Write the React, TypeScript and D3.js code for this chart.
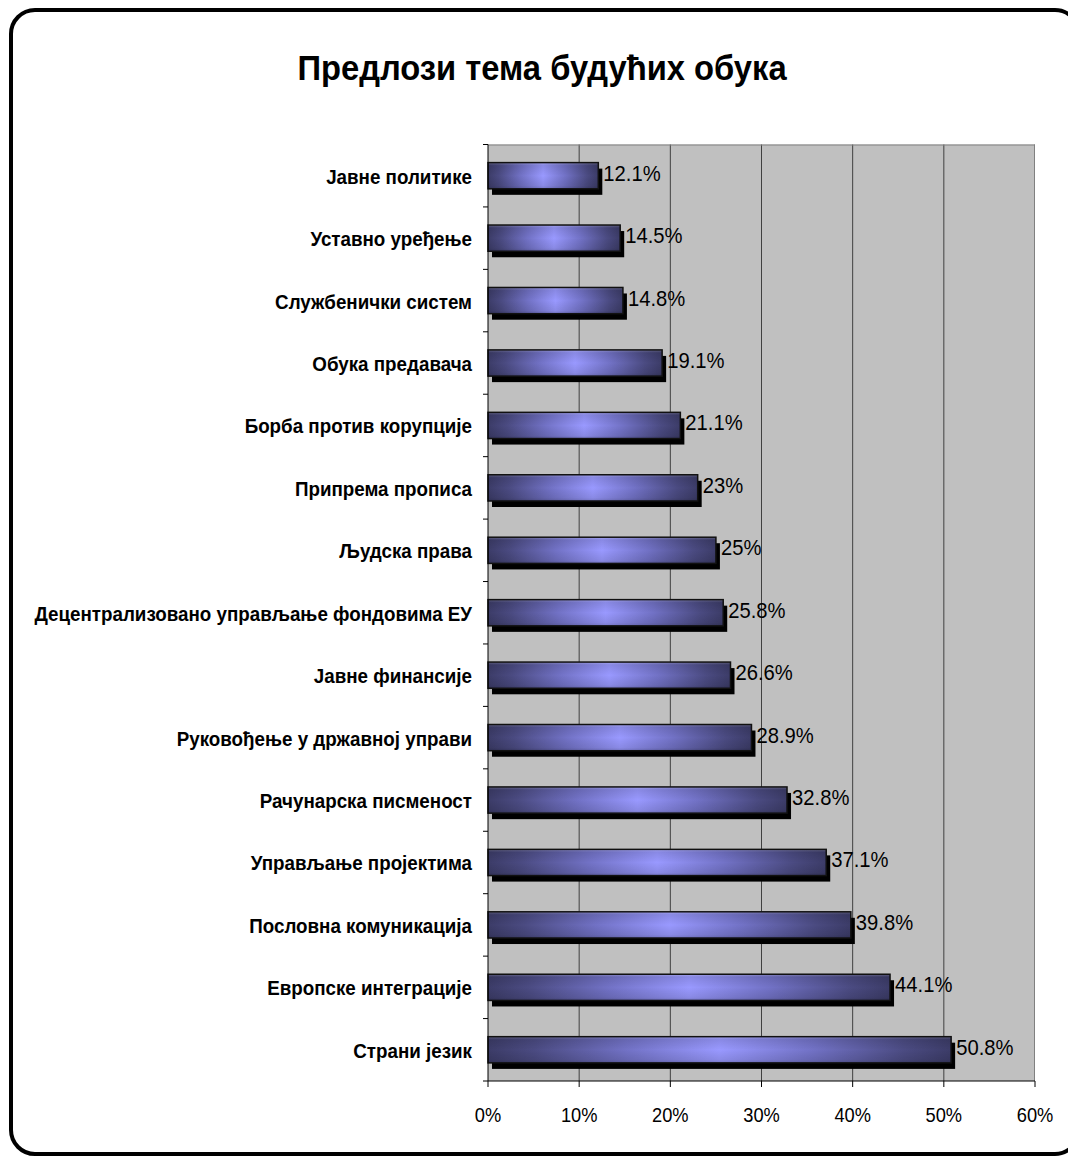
import React from "react";
import * as d3 from "d3";

const categories = [
  "Јавне политике",
  "Уставно уређење",
  "Службенички систем",
  "Обука предавача",
  "Борба против корупције",
  "Припрема прописа",
  "Људска права",
  "Децентрализовано управљање фондовима ЕУ",
  "Јавне финансије",
  "Руковођење у државној управи",
  "Рачунарска писменост",
  "Управљање пројектима",
  "Пословна комуникација",
  "Европске интеграције",
  "Страни језик",
];
const values = [12.1, 14.5, 14.8, 19.1, 21.1, 23, 25, 25.8, 26.6, 28.9, 32.8, 37.1, 39.8, 44.1, 50.8];
const xTicks = [0, 10, 20, 30, 40, 50, 60];
const title = "Предлози тема будућих обука";

const W = 1068;
const H = 1158;
const plot = { left: 488, right: 1035, top: 144.5, bottom: 1081 };
const FONT = "'Liberation Sans', Arial, sans-serif";

export default function App() {
  const x = d3.scaleLinear().domain([0, 60]).range([plot.left, plot.right]);
  const y = d3.scaleBand<string>().domain(categories).range([plot.top, plot.bottom]).padding(0);
  const step = y.step();
  const barH = step * 0.42;
  const fmt = (v: number) => `${d3.format("~g")(v)}%`;

  return (
    <svg
      width={W}
      height={H}
      viewBox={`0 0 ${W} ${H}`}
      style={{ position: "absolute", left: 0, top: 0, background: "#fff" }}
      fontFamily={FONT}
    >
      <defs>
        <linearGradient id="barH" x1="0" y1="0" x2="1" y2="0">
          <stop offset="0" stopColor="#3c3c68" />
          <stop offset="0.1" stopColor="#4b4b82" />
          <stop offset="0.3" stopColor="#7272c6" />
          <stop offset="0.5" stopColor="#9999ff" />
          <stop offset="0.7" stopColor="#7272c6" />
          <stop offset="0.9" stopColor="#4b4b82" />
          <stop offset="1" stopColor="#3c3c68" />
        </linearGradient>
        <linearGradient id="barV" x1="0" y1="0" x2="0" y2="1">
          <stop offset="0" stopColor="#ffffff" stopOpacity="0.25" />
          <stop offset="0.12" stopColor="#000000" stopOpacity="0.1" />
          <stop offset="0.5" stopColor="#000000" stopOpacity="0" />
          <stop offset="0.88" stopColor="#000000" stopOpacity="0.1" />
          <stop offset="1" stopColor="#000000" stopOpacity="0.22" />
        </linearGradient>
      </defs>

      {/* outer frame */}
      <rect x={11} y={10} width={1068} height={1144} rx={24} ry={24} fill="#fff" stroke="#000" strokeWidth={4} />

      {/* title */}
      <g transform={`translate(542,80) scale(0.935,1)`}>
        <text textAnchor="middle" fontSize={35} fontWeight="bold" fill="#000">
          {title}
        </text>
      </g>

      {/* plot background */}
      <rect x={plot.left} y={plot.top} width={plot.right - plot.left} height={plot.bottom - plot.top} fill="#c0c0c0" />

      {/* gridlines */}
      {xTicks.slice(1, -1).map((t) => (
        <line key={t} x1={x(t)} x2={x(t)} y1={plot.top} y2={plot.bottom} stroke="#404040" strokeWidth={1} />
      ))}
      {/* plot border top/right */}
      <line x1={plot.left} x2={plot.right} y1={plot.top + 0.5} y2={plot.top + 0.5} stroke="#808080" strokeWidth={1} />
      <line x1={plot.right - 0.5} x2={plot.right - 0.5} y1={plot.top} y2={plot.bottom} stroke="#808080" strokeWidth={1} />

      {/* bars */}
      {categories.map((c, i) => {
        const cy = (y(c) as number) + step / 2;
        const top = cy - barH / 2;
        const w = x(values[i]) - x(0);
        return (
          <g key={c}>
            <rect x={x(0) + 4} y={top + 6} width={w} height={barH} fill="#000" />
            <rect x={x(0)} y={top} width={w} height={barH} fill="url(#barH)" />
            <rect x={x(0)} y={top} width={w} height={barH} fill="url(#barV)" stroke="#111" strokeWidth={1.5} />
          </g>
        );
      })}

      {/* axes */}
      <line x1={plot.left} x2={plot.left} y1={plot.top} y2={plot.bottom} stroke="#000" strokeWidth={1} />
      {d3.range(categories.length + 1).map((k) => (
        <line
          key={k}
          x1={plot.left - 5}
          x2={plot.left}
          y1={plot.top + k * step}
          y2={plot.top + k * step}
          stroke="#000"
          strokeWidth={1}
        />
      ))}
      <line x1={plot.left} x2={plot.right} y1={plot.bottom} y2={plot.bottom} stroke="#000" strokeWidth={1} />
      {xTicks.map((t) => (
        <g key={t}>
          <line x1={x(t)} x2={x(t)} y1={plot.bottom} y2={plot.bottom + 6} stroke="#000" strokeWidth={1} />
          <g transform={`translate(${x(t)},1122) scale(0.87,1)`}>
            <text textAnchor="middle" fontSize={21} fill="#000">
              {`${t}%`}
            </text>
          </g>
        </g>
      ))}

      {/* category labels */}
      {categories.map((c) => {
        const cy = (y(c) as number) + step / 2;
        return (
          <g key={c} transform={`translate(472,${cy + 8}) scale(0.895,1)`}>
            <text textAnchor="end" fontSize={21} fontWeight="bold" fill="#000">
              {c}
            </text>
          </g>
        );
      })}

      {/* value labels */}
      {categories.map((c, i) => {
        const cy = (y(c) as number) + step / 2;
        return (
          <g key={c} transform={`translate(${x(values[i]) + 5},${cy + 5}) scale(0.92,1)`}>
            <text textAnchor="start" fontSize={22} fill="#000">
              {fmt(values[i])}
            </text>
          </g>
        );
      })}
    </svg>
  );
}
